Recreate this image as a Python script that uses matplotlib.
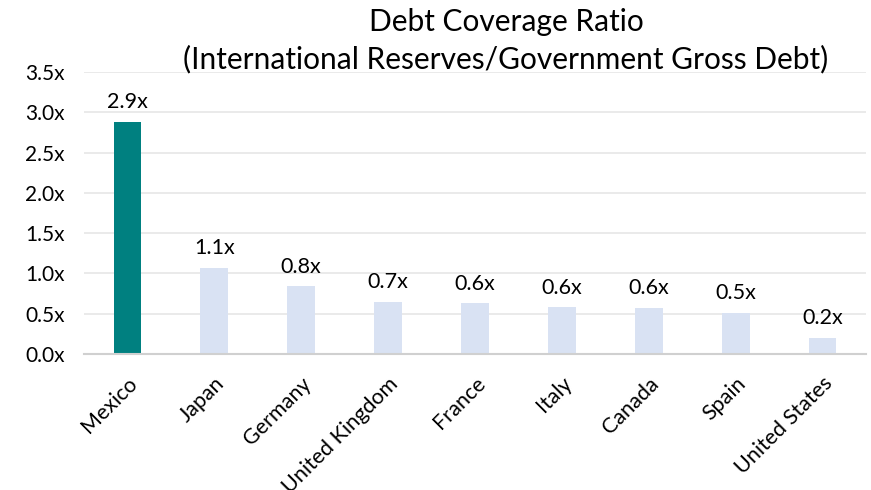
import matplotlib
matplotlib.use("Agg")
import matplotlib.pyplot as plt

countries = ["Mexico", "Japan", "Germany", "United Kingdom", "France", "Italy", "Canada", "Spain", "United States"]
ratios = [2.88, 1.07, 0.84, 0.65, 0.63, 0.58, 0.57, 0.51, 0.20]
yticks = [0.0, 0.5, 1.0, 1.5, 2.0, 2.5, 3.0, 3.5]
colors = ["#008080"] + ["#D9E2F3"] * 8

plt.rcParams['font.family'] = ['Lato', 'DejaVu Sans']

fig = plt.figure(figsize=(8.71, 4.90), dpi=100)
ax = fig.add_axes([84/871, 1 - 354/490, (866-84)/871, (354-72)/490])

x = range(len(countries))
ax.bar(x, ratios, width=0.32, color=colors, zorder=2)
for xi, v in zip(x, ratios):
    ax.annotate(f"{v:.1f}x", (xi, v), xytext=(0, 7), textcoords="offset points",
                ha="center", va="bottom", fontsize=15.5, color="#000000")

ax.set_xlim(-0.5, len(countries) - 0.5)
ax.set_ylim(0, 3.5)
ax.set_yticks(yticks)
ax.set_yticklabels([f"{t:.1f}x" for t in yticks], fontsize=15)
ax.set_xticks(list(x))
ax.set_xticklabels(countries, rotation=45, ha="right", va="top", rotation_mode="anchor", fontsize=15.5)
ax.tick_params(length=0)
ax.tick_params(axis='y', pad=14)
ax.tick_params(axis='x', pad=14)
ax.grid(axis='y', color="#E6E6E6", linewidth=1.2, zorder=0)
for s in ["top", "right", "left"]:
    ax.spines[s].set_visible(False)
ax.spines["bottom"].set_color("#D0D0D0")
ax.spines["bottom"].set_linewidth(1.5)

fig.text(506/871, 1 - 22/490, "Debt Coverage Ratio", ha="center", va="center", fontsize=21.5)
fig.text(506/871, 1 - 59/490, "(International Reserves/Government Gross Debt)", ha="center", va="center", fontsize=21.5)

fig.savefig("out.png", dpi=100)
